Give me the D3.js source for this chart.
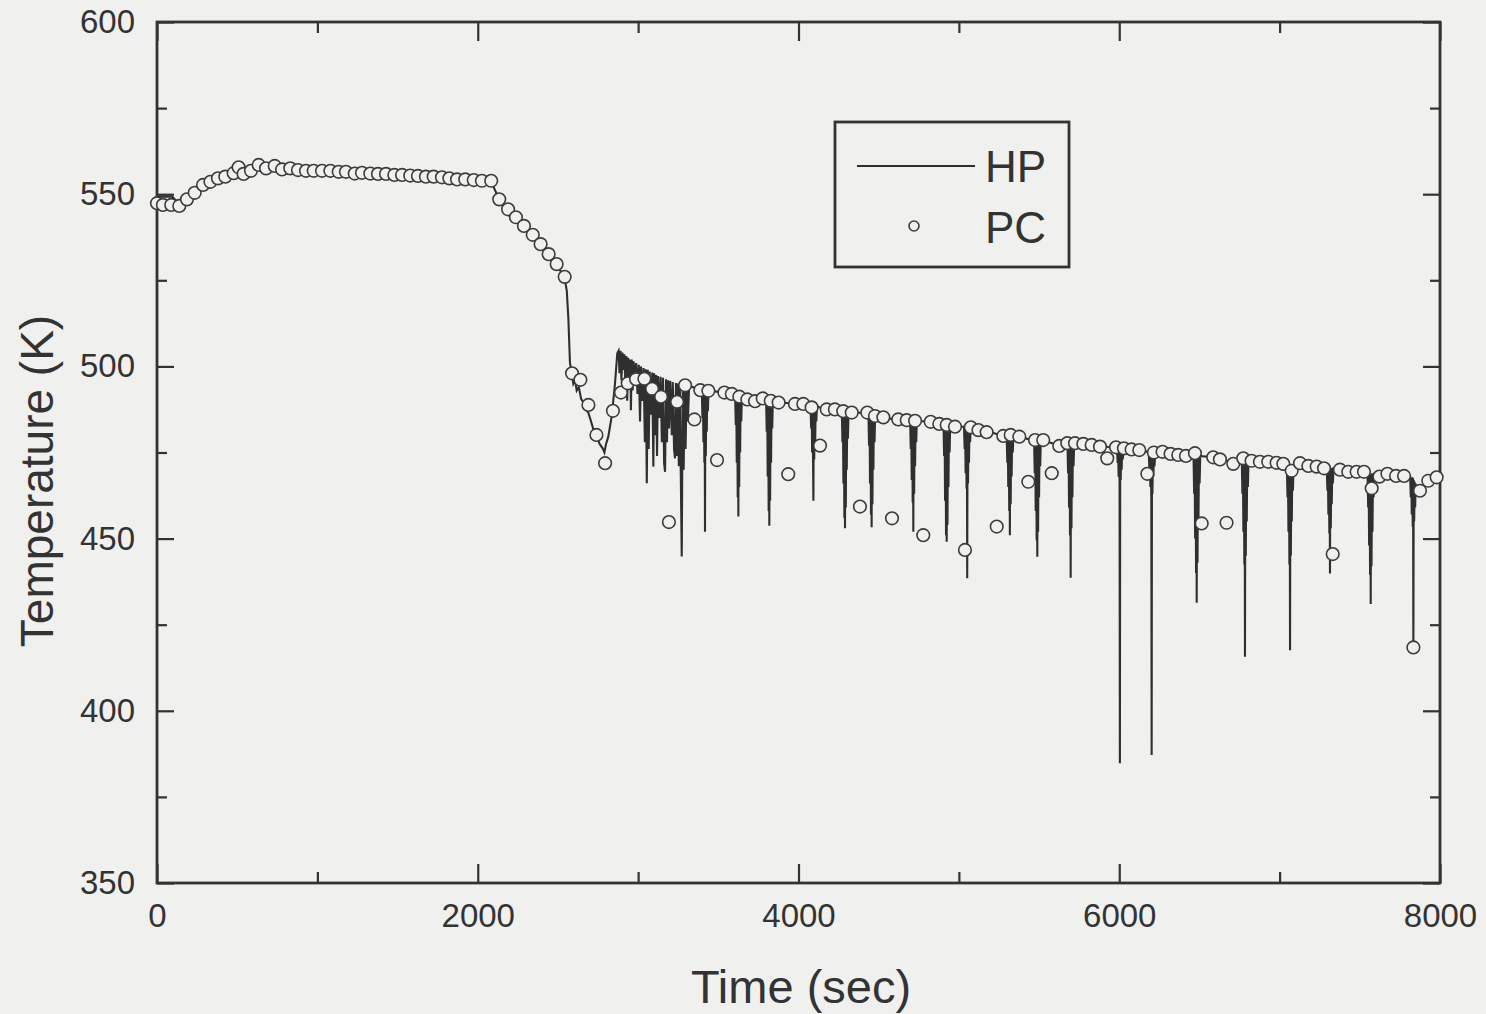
<!DOCTYPE html>
<html>
<head>
<meta charset="utf-8">
<script src="https://cdn.jsdelivr.net/npm/d3@7"></script>
<style>
  html, body { margin: 0; padding: 0; background: #f0f0ee; }
  svg { display: block; }
  text { font-family: "Liberation Sans", Arial, sans-serif; fill: #333; }
</style>
</head>
<body>
<svg id="chart"></svg>
<script>
// tick values
var xMajor = [0, 2000, 4000, 6000, 8000];
var xMinor = [1000, 3000, 5000, 7000];
var yMajor = [350, 400, 450, 500, 550, 600];
var yMinor = [375, 425, 475, 525, 575];

// PC (circles): time (s), temperature (K)
var pcTime = [0, 37, 89, 139, 187, 235, 287, 333, 380, 426, 478, 509, 540, 586, 634, 680, 734, 780, 831, 879,
  929, 977, 1029, 1081, 1133, 1178, 1233, 1278, 1330, 1378, 1428, 1480, 1528, 1579, 1627, 1677, 1725, 1777, 1823, 1871,
  1922, 1975, 2026, 2084, 2134, 2189, 2238, 2288, 2343, 2392, 2442, 2492, 2542,
  2588, 2640, 2690, 2740, 2794, 2843, 2893, 2935, 2987, 3039, 3087, 3143, 3192, 3243, 3293, 3351, 3388, 3438, 3492,
  3538, 3584, 3631, 3681, 3729, 3777, 3827, 3876, 3936, 3978, 4030, 4082, 4134, 4176, 4227, 4279, 4332, 4383, 4429,
  4477, 4529, 4583, 4622, 4675, 4727, 4778, 4824, 4878, 4924, 4976, 5038, 5074, 5122, 5173, 5236, 5277, 5323, 5377,
  5433, 5475, 5526, 5579, 5626, 5676, 5724, 5776, 5828, 5880, 5925, 5980, 6029, 6077, 6125, 6175, 6216, 6270, 6320,
  6368, 6416, 6472, 6514, 6586, 6628, 6669, 6711, 6773, 6825, 6877, 6929, 6981, 7023, 7075, 7127, 7179, 7231, 7277,
  7331, 7376, 7428, 7480, 7526, 7574, 7622, 7672, 7726, 7776, 7834, 7875, 7927, 7979];
var pcTemp = [547.4, 546.9, 546.9, 546.6, 548.5, 550.4, 552.7, 553.6, 554.6, 555.1, 556.1, 557.8, 555.9, 556.8, 558.5, 557.5, 558.2, 557.2, 557.5, 557.0,
  556.8, 556.8, 556.8, 556.8, 556.5, 556.5, 556.0, 556.2, 556.0, 555.9, 555.9, 555.6, 555.6, 555.4, 555.3, 555.1, 555.1, 554.9, 554.6, 554.3,
  554.3, 554.1, 553.9, 553.9, 548.5, 545.6, 543.3, 540.8, 538.2, 535.5, 532.6, 529.7, 526.0,
  498.0, 496.1, 488.8, 480.1, 471.9, 487.1, 492.4, 495.1, 496.3, 496.4, 493.5, 491.2, 454.8, 489.7, 494.5, 484.6, 493.1, 492.9, 472.8,
  492.4, 492.0, 491.2, 490.4, 489.9, 490.7, 490.0, 489.5, 468.7, 489.1, 489.1, 488.1, 477.0, 487.5, 487.5, 487.0, 486.6, 459.3, 486.6,
  485.6, 485.2, 455.9, 484.6, 484.4, 484.2, 451.0, 483.9, 483.3, 483.0, 482.5, 446.7, 482.3, 481.5, 480.9, 453.5, 479.8, 480.1, 479.6,
  466.5, 478.6, 478.6, 469.0, 476.9, 477.7, 477.7, 477.5, 477.2, 476.7, 473.3, 476.5, 476.2, 475.9, 475.7, 468.8, 475.0, 475.2, 474.6,
  474.3, 474.0, 474.8, 454.4, 473.6, 473.0, 454.6, 471.7, 473.3, 472.6, 472.3, 472.3, 472.0, 471.7, 469.7, 471.9, 471.1, 470.9, 470.4,
  445.5, 470.0, 469.4, 469.4, 469.4, 464.6, 468.0, 468.8, 468.2, 468.2, 418.4, 463.9, 466.8, 467.8];

// HP (line): [time (s), temperature (K)]
var hpPoints = [
  [0, 549.3], [95, 549.3], [140, 547], [190, 548.5], [240, 550.4], [290, 552.7], [380, 554.6], [430, 555.5], [480, 557], [500, 558.8],
  [540, 556.5], [590, 557], [640, 558.5], [700, 558], [780, 557.5], [900, 557], [1100, 556.7], [1300, 556.1], [1500, 555.6], [1700, 555.1],
  [1900, 554.4], [2060, 554], [2090, 553], [2134, 548.5], [2189, 545.6], [2238, 543.3], [2288, 540.8], [2343, 538.2], [2392, 535.5], [2442, 532.6],
  [2492, 529.7], [2542, 525.5], [2555, 522], [2565, 514], [2575, 501], [2585, 498.5], [2596, 495], [2606, 496], [2617, 493], [2630, 494],
  [2645, 490.5], [2662, 489.3], [2675, 487.5], [2690, 486.5], [2710, 483.5], [2725, 481], [2742, 479.6], [2760, 477.5], [2779, 476.2], [2790, 475],
  [2800, 477.5], [2814, 479.6], [2835, 485.4], [2856, 495.1], [2870, 503.8],
  [2878, 504.5], [2884, 498], [2890, 504.5], [2896, 496], [2902, 504], [2908, 499], [2914, 503.5], [2920, 495], [2926, 503], [2932, 490],
  [2938, 502.5], [2946, 496], [2952, 502], [2955, 487.3], [2960, 502], [2966, 493], [2972, 501.5], [2980, 496], [2988, 501], [2996, 492],
  [3004, 500.5], [3012, 484], [3018, 500], [3026, 490], [3034, 499.5], [3042, 478], [3048, 499.2], [3054, 466.1], [3060, 499], [3066, 476],
  [3072, 498.5], [3080, 486], [3088, 498.2], [3095, 470.9], [3100, 498], [3106, 480], [3112, 497.5], [3118, 474], [3124, 497.2], [3132, 485],
  [3140, 497], [3148, 478], [3155, 496.7], [3162, 472], [3168, 469.4], [3174, 496.3], [3180, 478], [3186, 496], [3192, 482], [3200, 495.8],
  [3210, 480], [3216, 495.5], [3224, 476], [3230, 473.3], [3236, 495.2], [3242, 474], [3248, 495], [3254, 471], [3260, 494.8], [3266, 469],
  [3272, 444.8], [3278, 494.6], [3284, 470], [3290, 494.5], [3296, 476], [3302, 494.4], [3310, 484], [3318, 494.2], [3340, 494], [3370, 493.5],
  [3397, 493], [3401, 485], [3404, 492.5], [3407, 478], [3410, 492.5], [3413, 472], [3415, 492], [3417, 452], [3419, 492], [3422, 474],
  [3425, 492.5], [3428, 481], [3431, 492.5], [3435, 487], [3439, 493], [3500, 492.6], [3560, 492.2], [3600, 491.6],
  [3605, 491.5], [3609, 483], [3612, 491], [3615, 472], [3618, 491], [3621, 462], [3623, 490.5], [3625, 456.4], [3627, 490.5], [3630, 465],
  [3633, 491], [3636, 475], [3639, 491], [3643, 484], [3647, 491.5], [3700, 490.5], [3760, 490.4],
  [3798, 490.2], [3802, 481], [3805, 490], [3808, 468], [3811, 490], [3814, 458], [3816, 489.5], [3818, 453.7], [3820, 489.5], [3823, 461],
  [3826, 490], [3829, 472], [3832, 490], [3836, 482], [3840, 490.2], [3900, 489.5], [3980, 489.1], [4040, 488.8],
  [4075, 488.5], [4079, 482], [4082, 488], [4085, 475], [4088, 488], [4091, 471.5], [4093, 461], [4095, 487.5], [4098, 473], [4101, 488],
  [4104, 478], [4107, 488], [4111, 484], [4115, 488.3], [4180, 487.6], [4240, 487.3],
  [4270, 487], [4274, 478], [4277, 486.5], [4280, 466], [4283, 486.5], [4286, 456], [4288, 486], [4290, 453], [4292, 486], [4295, 459],
  [4298, 486.5], [4301, 470], [4304, 486.5], [4308, 479], [4312, 487], [4360, 486.6], [4410, 486.5],
  [4436, 486.3], [4440, 477], [4443, 486], [4446, 466], [4449, 486], [4452, 457], [4454, 485.5], [4456, 453.3], [4458, 485.5], [4461, 460],
  [4464, 486], [4467, 470], [4470, 486], [4474, 478], [4478, 486], [4530, 485.2], [4600, 484.6], [4660, 484.4],
  [4696, 484.3], [4700, 476], [4703, 484], [4706, 467], [4709, 484], [4712, 460.5], [4714, 483.5], [4716, 452], [4718, 483.5], [4721, 463],
  [4724, 484], [4727, 471], [4730, 484], [4734, 478], [4738, 484.2], [4800, 484], [4860, 483.4],
  [4904, 483.2], [4908, 474], [4911, 483], [4914, 461], [4917, 483], [4920, 451], [4922, 482.5], [4924, 449.1], [4926, 482.5], [4929, 454],
  [4932, 483], [4935, 465], [4938, 483], [4942, 475], [4946, 482.8], [4990, 482.6],
  [5032, 482.4], [5036, 476], [5039, 482], [5042, 469], [5045, 482], [5048, 464.5], [5050, 481.5], [5052, 438.5], [5054, 481.5], [5057, 466],
  [5060, 482], [5063, 472], [5066, 482], [5070, 478], [5074, 482.3], [5130, 481.5], [5200, 480.9], [5260, 480],
  [5298, 480], [5302, 472], [5305, 480], [5308, 465], [5311, 480], [5314, 458], [5316, 479.5], [5318, 451], [5320, 479.5], [5323, 460],
  [5326, 480], [5329, 468], [5332, 480], [5336, 475], [5340, 479.8], [5380, 479.6], [5440, 478.8],
  [5469, 478.6], [5473, 469], [5476, 478.5], [5479, 458], [5482, 478.5], [5485, 449.5], [5487, 478], [5489, 444.7], [5491, 478], [5494, 452],
  [5497, 478.5], [5500, 462], [5503, 478.5], [5507, 471], [5511, 478.6], [5560, 478], [5620, 477.2], [5650, 477.7],
  [5677, 477.7], [5681, 469], [5684, 477.5], [5687, 459], [5690, 477.5], [5693, 451], [5695, 477], [5697, 438.6], [5699, 477], [5702, 453],
  [5705, 477.5], [5708, 462], [5711, 477.5], [5715, 471], [5719, 477.6], [5780, 477.5], [5860, 477], [5930, 476.6], [5960, 476.5],
  [5986, 476.4], [5990, 472], [5993, 476], [5996, 468], [5999, 476], [6002, 466], [6004, 384.8], [6006, 475.5], [6009, 467], [6012, 476],
  [6015, 470], [6018, 476], [6022, 473], [6026, 476.2], [6080, 475.9], [6140, 475.6],
  [6184, 475.1], [6188, 470], [6191, 475], [6194, 465], [6197, 475], [6200, 461], [6202, 387.2], [6204, 474.5], [6207, 463], [6210, 475],
  [6213, 468], [6216, 475], [6220, 471], [6224, 475], [6280, 475.1], [6340, 474.6], [6400, 474.4], [6440, 474.3],
  [6463, 474.2], [6467, 463], [6470, 474], [6473, 450], [6476, 474], [6479, 440], [6481, 473.5], [6483, 431.4], [6485, 473.5], [6488, 443],
  [6491, 474], [6494, 455], [6497, 474], [6501, 466], [6505, 474], [6560, 473.7], [6620, 473.2], [6690, 472.4], [6720, 471.8], [6740, 473],
  [6764, 472.9], [6768, 463], [6771, 472.5], [6774, 452], [6777, 472.5], [6780, 442.5], [6782, 472], [6784, 415.7], [6786, 472], [6789, 445],
  [6792, 472.5], [6795, 455], [6798, 472.5], [6802, 465], [6806, 472.8], [6870, 472.3], [6940, 472.3], [7000, 472],
  [7045, 471.8], [7049, 462], [7052, 471.5], [7055, 452], [7058, 471.5], [7061, 442.5], [7063, 471], [7065, 417.6], [7067, 471], [7070, 445],
  [7073, 471.5], [7076, 455], [7079, 471.5], [7083, 464], [7087, 471.5], [7130, 471.8], [7200, 471.1], [7260, 470.8],
  [7294, 470.6], [7298, 464], [7301, 470.5], [7304, 457], [7307, 470.5], [7310, 451.5], [7312, 470], [7314, 439.9], [7316, 470], [7319, 453],
  [7322, 470.5], [7325, 460], [7328, 470.5], [7332, 466], [7336, 470.4], [7400, 469.8], [7480, 469.4], [7520, 469.3],
  [7548, 469.2], [7552, 459], [7555, 469], [7558, 448], [7561, 469], [7564, 439.5], [7566, 468.5], [7568, 431], [7570, 468.5], [7573, 442],
  [7576, 469], [7579, 452], [7582, 469], [7586, 462], [7590, 468.8], [7640, 468.6], [7700, 468.5], [7770, 468.2],
  [7814, 468], [7818, 462], [7821, 467.8], [7824, 457], [7827, 467.8], [7830, 453.5], [7832, 467.5], [7834, 418.6], [7836, 467], [7839, 455],
  [7842, 466.5], [7845, 459], [7848, 466], [7852, 463], [7858, 464.5], [7880, 464], [7930, 466.8], [7980, 467.8], [8000, 468]
];

var legendItems = ['HP', 'PC'];

var W = 1486, H = 1014;
var plot = { left: 157, right: 1440, top: 22, bottom: 883 };
var ink = '#333333';
var paper = '#f0f0ee';

var svg = d3.select('#chart')
  .attr('width', W)
  .attr('height', H);

svg.append('rect')
  .attr('width', W)
  .attr('height', H)
  .attr('fill', paper);

var x = d3.scaleLinear().domain([0, 8000]).range([plot.left, plot.right]);
var y = d3.scaleLinear().domain([350, 600]).range([plot.bottom, plot.top]);

// clip so that spikes never leave the frame
svg.append('defs').append('clipPath')
  .attr('id', 'clip')
  .append('rect')
  .attr('x', plot.left)
  .attr('y', plot.top)
  .attr('width', plot.right - plot.left)
  .attr('height', plot.bottom - plot.top);

function styleAxis(g) {
  g.select('.domain').remove();
  g.selectAll('.tick line').attr('stroke', ink).attr('stroke-width', 2.2);
  g.selectAll('.tick text')
    .attr('font-size', 33)
    .attr('fill', '#333')
    .attr('font-family', '"Liberation Sans", Arial, sans-serif');
}

// bottom axis with labels
svg.append('g')
  .attr('transform', 'translate(0,' + plot.bottom + ')')
  .call(d3.axisBottom(x).tickValues(xMajor).tickSizeInner(-19).tickSizeOuter(0).tickPadding(21).tickFormat(d3.format('d')))
  .call(styleAxis);
svg.append('g')
  .attr('transform', 'translate(0,' + plot.bottom + ')')
  .call(d3.axisBottom(x).tickValues(xMinor).tickSizeInner(-11).tickSizeOuter(0).tickFormat(''))
  .call(styleAxis);

// top axis, ticks only
svg.append('g')
  .attr('transform', 'translate(0,' + plot.top + ')')
  .call(d3.axisTop(x).tickValues(xMajor).tickSizeInner(-19).tickSizeOuter(0).tickFormat(''))
  .call(styleAxis);
svg.append('g')
  .attr('transform', 'translate(0,' + plot.top + ')')
  .call(d3.axisTop(x).tickValues(xMinor).tickSizeInner(-11).tickSizeOuter(0).tickFormat(''))
  .call(styleAxis);

// left axis with labels
svg.append('g')
  .attr('transform', 'translate(' + plot.left + ',0)')
  .call(d3.axisLeft(y).tickValues(yMajor).tickSizeInner(-17).tickSizeOuter(0).tickPadding(22).tickFormat(d3.format('d')))
  .call(styleAxis);
svg.append('g')
  .attr('transform', 'translate(' + plot.left + ',0)')
  .call(d3.axisLeft(y).tickValues(yMinor).tickSizeInner(-10).tickSizeOuter(0).tickFormat(''))
  .call(styleAxis);

// right axis, ticks only
svg.append('g')
  .attr('transform', 'translate(' + plot.right + ',0)')
  .call(d3.axisRight(y).tickValues(yMajor).tickSizeInner(-17).tickSizeOuter(0).tickFormat(''))
  .call(styleAxis);
svg.append('g')
  .attr('transform', 'translate(' + plot.right + ',0)')
  .call(d3.axisRight(y).tickValues(yMinor).tickSizeInner(-10).tickSizeOuter(0).tickFormat(''))
  .call(styleAxis);

// frame
svg.append('rect')
  .attr('x', plot.left)
  .attr('y', plot.top)
  .attr('width', plot.right - plot.left)
  .attr('height', plot.bottom - plot.top)
  .attr('fill', 'none')
  .attr('stroke', ink)
  .attr('stroke-width', 2.8);

var layer = svg.append('g').attr('clip-path', 'url(#clip)');

// HP line
var line = d3.line()
  .x(function (d) { return x(d[0]); })
  .y(function (d) { return y(d[1]); });

layer.append('path')
  .datum(hpPoints)
  .attr('class', 'line')
  .attr('d', line)
  .attr('fill', 'none')
  .attr('stroke', '#2f2f2f')
  .attr('stroke-width', 2.1)
  .attr('stroke-linejoin', 'miter');

// PC circles
var pcData = pcTime.map(function (t, i) { return { t: t, v: pcTemp[i] }; });

svg.append('g').selectAll('circle')
  .data(pcData)
  .enter().append('circle')
  .attr('cx', function (d) { return x(d.t); })
  .attr('cy', function (d) { return y(d.v); })
  .attr('r', 6.3)
  .attr('fill', paper)
  .attr('stroke', '#3c3c3c')
  .attr('stroke-width', 1.6);

// axis titles
svg.append('text')
  .attr('x', 801)
  .attr('y', 1003)
  .attr('text-anchor', 'middle')
  .attr('font-size', 47)
  .text('Time (sec)');

svg.append('text')
  .attr('transform', 'translate(53,' + 481 + ') rotate(-90)')
  .attr('text-anchor', 'middle')
  .attr('font-size', 46)
  .text('Temperature (K)');

// legend
var legend = svg.append('g').attr('transform', 'translate(835,122)');
legend.append('rect')
  .attr('width', 234)
  .attr('height', 145)
  .attr('fill', paper)
  .attr('stroke', ink)
  .attr('stroke-width', 2.8);
legend.append('line')
  .attr('x1', 22).attr('x2', 140)
  .attr('y1', 44).attr('y2', 44)
  .attr('stroke', '#2f2f2f')
  .attr('stroke-width', 2.2);
legend.append('circle')
  .attr('cx', 79).attr('cy', 104)
  .attr('r', 5)
  .attr('fill', paper)
  .attr('stroke', '#3c3c3c')
  .attr('stroke-width', 1.6);
legend.selectAll('text.item')
  .data(legendItems)
  .enter().append('text')
  .attr('class', 'item')
  .attr('x', 150)
  .attr('y', function (d, i) { return 60 + i * 61; })
  .attr('font-size', 44)
  .text(function (d) { return d; });
</script>
</body>
</html>
